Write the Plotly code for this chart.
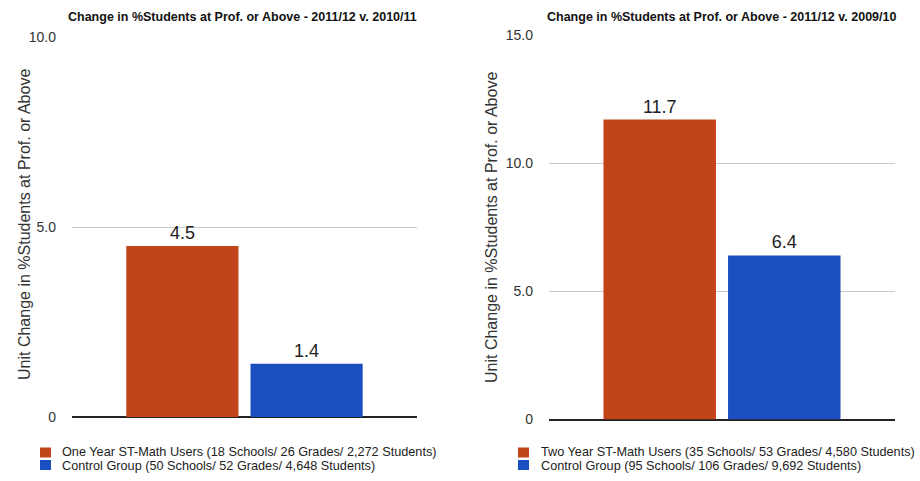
import plotly.graph_objects as go

# --- data -----------------------------------------------------------------
left_title = "Change in %Students at Prof. or Above - 2011/12 v. 2010/11"
right_title = "Change in %Students at Prof. or Above - 2011/12 v. 2009/10"
y_title = "Unit Change in %Students at Prof. or Above"

left_names = [
    "One Year ST-Math Users (18 Schools/ 26 Grades/ 2,272 Students)",
    "Control Group (50 Schools/ 52 Grades/ 4,648 Students)",
]
left_values = [4.5, 1.4]

right_names = [
    "Two Year ST-Math Users (35 Schools/ 53 Grades/ 4,580 Students)",
    "Control Group (95 Schools/ 106 Grades/ 9,692 Students)",
]
right_values = [11.7, 6.4]

left_tickvals = [0, 5, 10]
left_ticktext = ["0", "5.0", "10.0"]
right_tickvals = [0, 5, 10, 15]
right_ticktext = ["0", "5.0", "10.0", "15.0"]

colors = ["#C2441A", "#1B4FBF"]

# --- geometry (pixels of a 920x481 canvas) ----------------------------------
W, H = 920, 481


def px(x):
    return x / W


def py(y):
    return 1 - y / H


FONT = "Liberation Sans, Arial, Helvetica, sans-serif"
NARROW = "Liberation Sans Narrow, Arial Narrow, Liberation Sans, Arial, sans-serif"

fig = go.Figure()

panels = [
    dict(names=left_names, values=left_values, xa="x", ya="y"),
    dict(names=right_names, values=right_values, xa="x2", ya="y2"),
]
for p in panels:
    for name, val, col in zip(p["names"], p["values"], colors):
        fig.add_trace(
            go.Bar(
                x=[0],
                y=[val],
                name=name,
                marker=dict(color=col, line=dict(width=0)),
                text=[f"{val:.1f}"],
                textposition="outside",
                textfont=dict(family=FONT, size=18, color="#222222"),
                cliponaxis=False,
                xaxis=p["xa"],
                yaxis=p["ya"],
                showlegend=False,
            )
        )

axis_common = dict(
    showgrid=True,
    gridcolor="#c9c9c9",
    gridwidth=1,
    zeroline=True,
    zerolinecolor="#222222",
    zerolinewidth=1.5,
    showline=False,
    ticks="",
    automargin=False,
    ticklabelstandoff=15,
    tickfont=dict(family=FONT, size=14, color="#333333"),
)
xaxis_common = dict(
    range=[-0.5, 0.5],
    showgrid=False,
    zeroline=False,
    showticklabels=False,
    showline=False,
    ticks="",
    automargin=False,
    fixedrange=True,
)

fig.update_layout(
    width=W,
    height=H,
    autosize=False,
    margin=dict(l=0, r=0, t=0, b=0, pad=0, autoexpand=False),
    paper_bgcolor="white",
    plot_bgcolor="white",
    barmode="group",
    bargap=0.28,
    bargroupgap=0.097,
    showlegend=False,
    xaxis=dict(domain=[px(72), px(417)], anchor="y", **xaxis_common),
    yaxis=dict(
        domain=[py(417), py(37)],
        anchor="x",
        range=[0, 10],
        tickvals=left_tickvals,
        ticktext=left_ticktext,
        **axis_common,
    ),
    xaxis2=dict(domain=[px(549), px(895)], anchor="y2", **xaxis_common),
    yaxis2=dict(
        domain=[py(419.5), py(35)],
        anchor="x2",
        range=[0, 15],
        tickvals=right_tickvals,
        ticktext=right_ticktext,
        **axis_common,
    ),
)

annotations = []
shapes = []

# chart titles
for title, cx in [(left_title, 243), (right_title, 721.5)]:
    annotations.append(
        dict(
            text=f"<b>{title}</b>",
            x=px(cx),
            y=py(17),
            xref="paper",
            yref="paper",
            xanchor="center",
            yanchor="middle",
            showarrow=False,
            font=dict(family=NARROW, size=12.5, color="#111111"),
        )
    )

# rotated y-axis titles
for cx, cy in [(24, 225), (491, 228)]:
    annotations.append(
        dict(
            text=y_title,
            x=px(cx),
            y=py(cy),
            xref="paper",
            yref="paper",
            xanchor="center",
            yanchor="middle",
            textangle=-90,
            showarrow=False,
            font=dict(family=FONT, size=16, color="#333333"),
        )
    )

# legends below each chart
legend_specs = [
    dict(names=left_names, sx=40, tx=60),
    dict(names=right_names, sx=518, tx=539),
]
text_rows = [452, 466]
swatch_rows = [452.5, 465]
for spec in legend_specs:
    for name, col, ty, sy in zip(spec["names"], colors, text_rows, swatch_rows):
        shapes.append(
            dict(
                type="rect",
                xref="paper",
                yref="paper",
                x0=px(spec["sx"]),
                x1=px(spec["sx"] + 11),
                y0=py(sy - 5),
                y1=py(sy + 5),
                fillcolor=col,
                line=dict(width=0),
            )
        )
        annotations.append(
            dict(
                text=name,
                x=px(spec["tx"]),
                y=py(ty),
                xref="paper",
                yref="paper",
                xanchor="left",
                yanchor="middle",
                showarrow=False,
                font=dict(family=FONT, size=12.7, color="#222222"),
            )
        )

fig.update_layout(annotations=annotations, shapes=shapes)

fig.write_html("out.html")
